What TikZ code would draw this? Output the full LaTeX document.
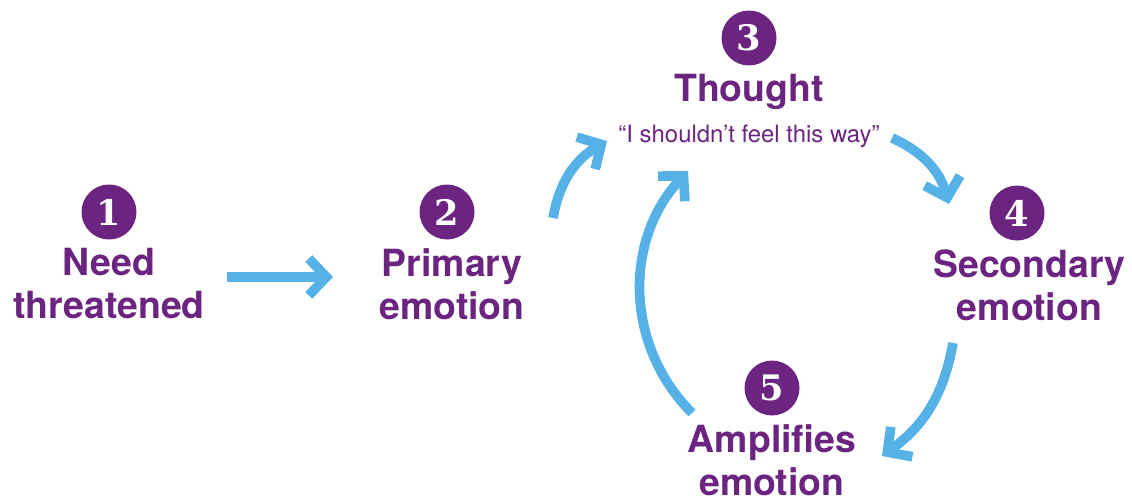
\documentclass[tikz,border=0pt]{standalone}
\usepackage{fontspec}
\setmainfont{TeX Gyre Heros}
\newfontfamily\numfont{DejaVu Serif}
\usetikzlibrary{positioning}
\usetikzlibrary{arrows.meta}

\definecolor{grape}{RGB}{107,36,128}
\definecolor{sky}{RGB}{86,178,230}

\tikzset{
  num/.style={circle, fill=grape, text=white, minimum size=1.1cm, inner sep=0pt, font=\numfont\bfseries\fontsize{20}{20}\selectfont},
  stage/.style={text=grape, align=center, inner sep=0pt, font=\bfseries\fontsize{21.3}{24.4}\selectfont},
  flow/.style={sky, line width=5.5pt, -{Straight Barb[length=10pt,width=21pt]}},
}

\begin{document}
\begin{tikzpicture}[x=0.02cm, y=-0.02cm]
  \useasboundingbox (0,0) rectangle (1132,501);

  % numbered circles
  \foreach \i/\x/\y in {1/109/212, 2/447/212, 3/749/38, 4/1017/213, 5/772/388} {
    \node[num] (c\i) at (\x,\y) {\i};
  }

  % stage names under the circles
  \node[stage, below=0.17cm of c1] (need) {Need\\threatened};
  \node[stage, below=0.17cm of c2, xshift=0.1cm] (primary) {Primary\\emotion};
  \node[stage, below=0.17cm of c3] (thought) {Thought};
  \node[text=grape, inner sep=0pt, below=0.28cm of thought, font=\fontsize{13.6}{13.6}\selectfont] (quote) {``I shouldn't feel this way''};
  \node[stage, below=0.17cm of c4, xshift=0.25cm] (secondary) {Secondary\\emotion};
  \node[stage, below=0.17cm of c5] (amplifies) {Amplifies\\emotion};

  % free ends of the arrows
  \coordinate (s12) at (227,277); \coordinate (e12) at (333,277);
  \coordinate (s23) at (553,218); \coordinate (e23) at (607,141);
  \coordinate (s34) at (892,138); \coordinate (e34) at (949,204);
  \coordinate (s45) at (953,343); \coordinate (e45) at (882,456);
  \coordinate (s53) at (692,413); \coordinate (e53) at (688,171);

  \draw[flow] (s12) -- (e12);
  \draw[flow] (s23) to[bend left=25] (e23);
  \draw[flow] (s34) to[bend left=25] (e34);
  \draw[flow] (s45) to[bend left=22] (e45);
  \draw[flow] (s53) to[bend left=44] (e53);
\end{tikzpicture}
\end{document}
